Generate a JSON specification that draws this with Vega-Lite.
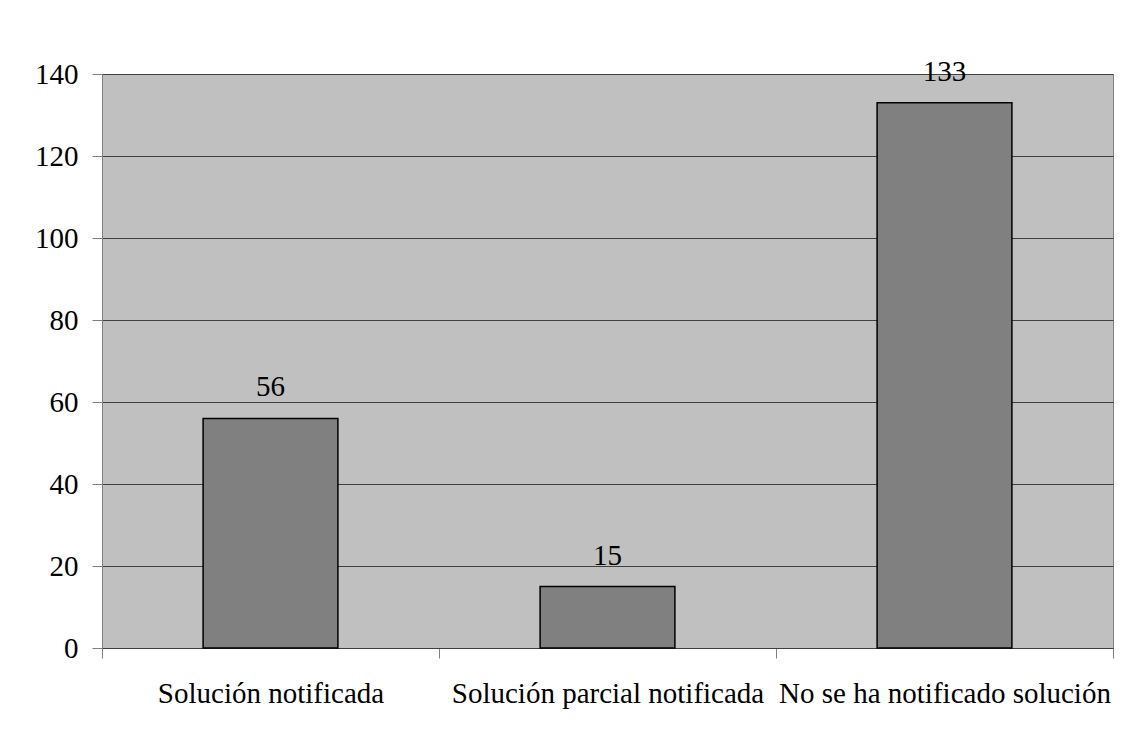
{
  "$schema": "https://vega.github.io/schema/vega-lite/v6.json",
  "autosize": {"type": "none"},
  "padding": {"left": 102, "top": 74, "right": 16, "bottom": 88},
  "width": 1011,
  "height": 574,
  "background": "#ffffff",
  "config": {
    "font": "Liberation Serif",
    "view": {"fill": "#C0C0C0", "stroke": "#808080", "strokeWidth": 1}
  },
  "data": {
    "values": [
      {"categoria": "Solución notificada", "valor": 56},
      {"categoria": "Solución parcial notificada", "valor": 15},
      {"categoria": "No se ha notificado solución", "valor": 133}
    ]
  },
  "encoding": {
    "x": {
      "field": "categoria",
      "type": "nominal",
      "sort": null,
      "scale": {"paddingInner": 0, "paddingOuter": 0},
      "axis": {
        "title": null,
        "labelAngle": 0,
        "labelFont": "Liberation Serif",
        "labelFontSize": 29,
        "labelColor": "#000000",
        "labelPadding": 21,
        "labelLimit": 0,
        "tickBand": "extent",
        "tickSize": 10,
        "tickColor": "#808080",
        "domainColor": "#404040",
        "grid": false
      }
    },
    "y": {
      "field": "valor",
      "type": "quantitative",
      "scale": {"domain": [0, 140], "nice": false},
      "axis": {
        "title": null,
        "values": [0, 20, 40, 60, 80, 100, 120, 140],
        "labelFont": "Liberation Serif",
        "labelFontSize": 29,
        "labelColor": "#000000",
        "labelPadding": 14,
        "tickSize": 10,
        "tickColor": "#808080",
        "domainColor": "#808080",
        "grid": true,
        "gridColor": "#404040",
        "gridWidth": 1
      }
    }
  },
  "layer": [
    {
      "mark": {"type": "bar", "fill": "#808080", "stroke": "#000000", "strokeWidth": 1.5, "width": {"band": 0.4}}
    },
    {
      "mark": {"type": "text", "font": "Liberation Serif", "fontSize": 29, "color": "#000000", "baseline": "alphabetic", "dy": -22},
      "encoding": {"text": {"field": "valor", "type": "quantitative"}}
    }
  ]
}
